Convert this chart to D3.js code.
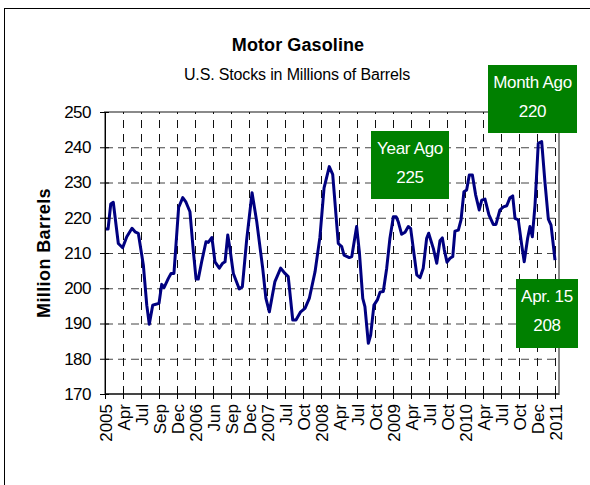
<!DOCTYPE html>
<html>
<head>
<meta charset="utf-8">
<script src="https://cdn.jsdelivr.net/npm/d3@7"></script>
<style>
  html, body { margin: 0; padding: 0; background: #fff; }
  svg { display: block; }
  text { font-family: Arial, "Liberation Sans", sans-serif; }
</style>
</head>
<body>
<script>
// ---- data ----
const xLabels = ["2005","Apr","Jul","Sep","Dec","2006","Jun","Sep","Dec","2007","Jul","Oct","2008","Apr","Jul","Oct","2009","Apr","Jul","Oct","2010","Apr","Jul","Oct","Dec","2011"];
const yTicks = [170, 180, 190, 200, 210, 220, 230, 240, 250];
// position along the category axis (in label intervals) and stock level (million barrels)
const period = [0.00,0.17,0.32,0.46,0.74,0.98,1.21,1.50,1.67,1.85,2.13,2.32,2.46,2.65,2.78,3.00,3.15,3.28,3.52,3.67,3.83,4.09,4.32,4.50,4.72,4.91,5.06,5.18,5.37,5.61,5.74,5.94,6.11,6.35,6.54,6.67,6.82,6.94,7.13,7.46,7.63,7.87,8.17,8.43,8.76,8.94,9.13,9.44,9.76,10.00,10.18,10.43,10.61,10.87,11.11,11.35,11.67,11.94,12.17,12.46,12.65,12.96,13.15,13.28,13.57,13.71,13.98,14.13,14.32,14.44,14.63,14.76,14.94,15.13,15.28,15.46,15.65,15.83,16.02,16.17,16.29,16.48,16.67,16.85,16.98,17.32,17.50,17.68,17.87,17.98,18.24,18.43,18.61,18.74,18.85,19.00,19.17,19.32,19.44,19.63,19.78,19.94,20.09,20.24,20.41,20.59,20.79,20.93,21.11,21.33,21.57,21.72,21.94,22.13,22.32,22.50,22.65,22.78,22.96,23.15,23.29,23.48,23.61,23.74,23.89,24.07,24.26,24.44,24.63,24.78,25.00];
const stocks = [216.8,216.8,223.9,224.4,212.7,211.5,214.6,217.0,216.0,215.6,206.6,195.2,189.8,195.2,195.4,195.7,201.1,200.2,202.8,204.2,204.2,222.9,225.7,224.4,221.7,210.4,202.6,202.6,207.5,213.2,213.0,214.4,207.5,205.7,207.1,207.5,215.1,211.3,204.2,199.8,200.4,213.7,227.1,218.9,205.7,197.1,193.3,201.9,205.7,204.2,203.3,191.0,191.0,193.3,194.3,197.1,204.7,214.5,228.5,234.5,232.3,212.7,211.8,209.4,208.7,209.0,217.5,210.4,197.1,194.8,184.4,186.7,195.2,196.7,198.9,199.1,205.7,214.2,220.3,220.3,218.9,215.3,215.9,217.5,217.0,203.8,203.0,205.7,214.2,215.6,211.3,207.1,213.5,214.3,210.9,207.4,208.5,209.0,216.2,216.5,219.4,227.4,227.9,232.1,232.1,226.5,222.2,225.0,225.3,220.8,218.1,218.1,222.2,223.1,223.4,225.7,226.2,219.8,219.4,212.3,207.5,214.2,217.5,214.6,223.6,241.1,241.6,230.2,219.6,217.9,208.0];
const callouts = [
  { lines: ["Month Ago", "220"], x0: 488, y0: 65, x1: 577, y1: 133 },
  { lines: ["Year Ago", "225"], x0: 371, y0: 131, x1: 449, y1: 199 },
  { lines: ["Apr. 15", "208"], x0: 516, y0: 279, x1: 578, y1: 348 }
];

// ---- layout ----
const W = 590, H = 485;
const plot = { left: 105, top: 112, right: 559, bottom: 394 };

const svg = d3.select("body").append("svg").attr("width", W).attr("height", H);

// outer chart frame
svg.append("rect").attr("x", 4.5).attr("y", 8.5).attr("width", W + 10).attr("height", H + 10)
  .attr("fill", "#fff").attr("stroke", "#000").attr("stroke-width", 1);

const x = d3.scaleLinear().domain([0, xLabels.length - 1]).range([plot.left, 555]);
const y = d3.scaleLinear().domain([170, 250]).range([plot.bottom, plot.top]);

// plot border (top/right gray)
svg.append("rect").attr("x", plot.left).attr("y", plot.top)
  .attr("width", plot.right - plot.left).attr("height", plot.bottom - plot.top)
  .attr("fill", "none").attr("stroke", "#8a8a8a").attr("stroke-width", 2);

// horizontal dashed gridlines
svg.append("g").attr("transform", `translate(${plot.left},0)`)
  .call(d3.axisLeft(y).tickValues(yTicks.filter(v => v > 170 && v < 250))
    .tickSize(-(plot.right - plot.left)).tickFormat(""))
  .call(g => g.select(".domain").remove())
  .call(g => g.selectAll("line").attr("stroke", "#444").attr("stroke-dasharray", "8,5"));

// vertical dashed gridlines
svg.append("g").attr("transform", `translate(0,${plot.bottom})`)
  .call(d3.axisBottom(x).tickValues(d3.range(1, xLabels.length))
    .tickSize(-(plot.bottom - plot.top)).tickFormat(""))
  .call(g => g.select(".domain").remove())
  .call(g => g.selectAll("line").attr("stroke", "#111").attr("stroke-dasharray", "8,6"));

// line
const line = d3.line().x((d, i) => x(period[i])).y(d => y(d));
svg.append("path").datum(stocks).attr("d", line)
  .attr("fill", "none").attr("stroke", "#000080").attr("stroke-width", 3)
  .attr("stroke-linejoin", "round");

// y axis (cross ticks)
const yAx = svg.append("g").attr("transform", `translate(${plot.left},0)`)
  .call(d3.axisLeft(y).tickValues(yTicks).tickSize(5).tickPadding(9).tickFormat(d3.format("d")));
svg.append("g").attr("transform", `translate(${plot.left},0)`)
  .call(d3.axisLeft(y).tickValues(yTicks).tickSize(-4).tickFormat(""))
  .call(g => g.select(".domain").remove());
yAx.selectAll("text").attr("font-size", 17).attr("fill", "#000").attr("letter-spacing", -0.5);

// x axis (cross ticks)
const xAx = svg.append("g").attr("transform", `translate(0,${plot.bottom})`)
  .call(d3.axisBottom(x).tickValues(d3.range(0, xLabels.length)).tickSize(5)
    .tickSizeOuter(0).tickFormat(i => xLabels[i]));
svg.append("g").attr("transform", `translate(0,${plot.bottom})`)
  .call(d3.axisBottom(x).tickValues(d3.range(0, xLabels.length)).tickSize(-5).tickFormat(""))
  .call(g => g.select(".domain").remove());
svg.selectAll(".domain").attr("stroke", "#000");
svg.selectAll(".tick line").filter(function() { return !this.getAttribute("stroke-dasharray"); })
  .attr("stroke", "#000");
xAx.selectAll("text")
  .attr("font-size", 17).attr("fill", "#000")
  .attr("text-anchor", "end")
  .attr("transform", "rotate(-90)")
  .attr("x", -10).attr("y", 0).attr("dy", "0.36em");
// extend x domain across the plot width
xAx.select(".domain").attr("d", `M${plot.left},0H${plot.right}`);

// axis title
svg.append("text").attr("transform", `translate(50,${(plot.top + plot.bottom) / 2}) rotate(-90)`)
  .attr("text-anchor", "middle").attr("font-size", 18).attr("font-weight", "bold")
  .attr("letter-spacing", 0.4)
  .text("Million Barrels");

// titles
svg.append("text").attr("x", 298).attr("y", 51).attr("text-anchor", "middle")
  .attr("font-size", 18).attr("font-weight", "bold").attr("letter-spacing", 0.1)
  .text("Motor Gasoline");
svg.append("text").attr("x", 297).attr("y", 80).attr("text-anchor", "middle")
  .attr("font-size", 16).attr("letter-spacing", -0.15)
  .text("U.S. Stocks in Millions of Barrels");

// callouts
const cg = svg.append("g").selectAll("g").data(callouts).join("g");
cg.append("rect").attr("x", d => d.x0).attr("y", d => d.y0)
  .attr("width", d => d.x1 - d.x0).attr("height", d => d.y1 - d.y0).attr("fill", "#008000");
cg.each(function(d) {
  const g = d3.select(this);
  d.lines.forEach((t, i) => {
    g.append("text").attr("x", (d.x0 + d.x1) / 2).attr("y", d.y0 + 23 + i * 28.5)
      .attr("text-anchor", "middle").attr("font-size", 17).attr("fill", "#fff")
      .attr("letter-spacing", -0.3).text(t);
  });
});
</script>
</body>
</html>
